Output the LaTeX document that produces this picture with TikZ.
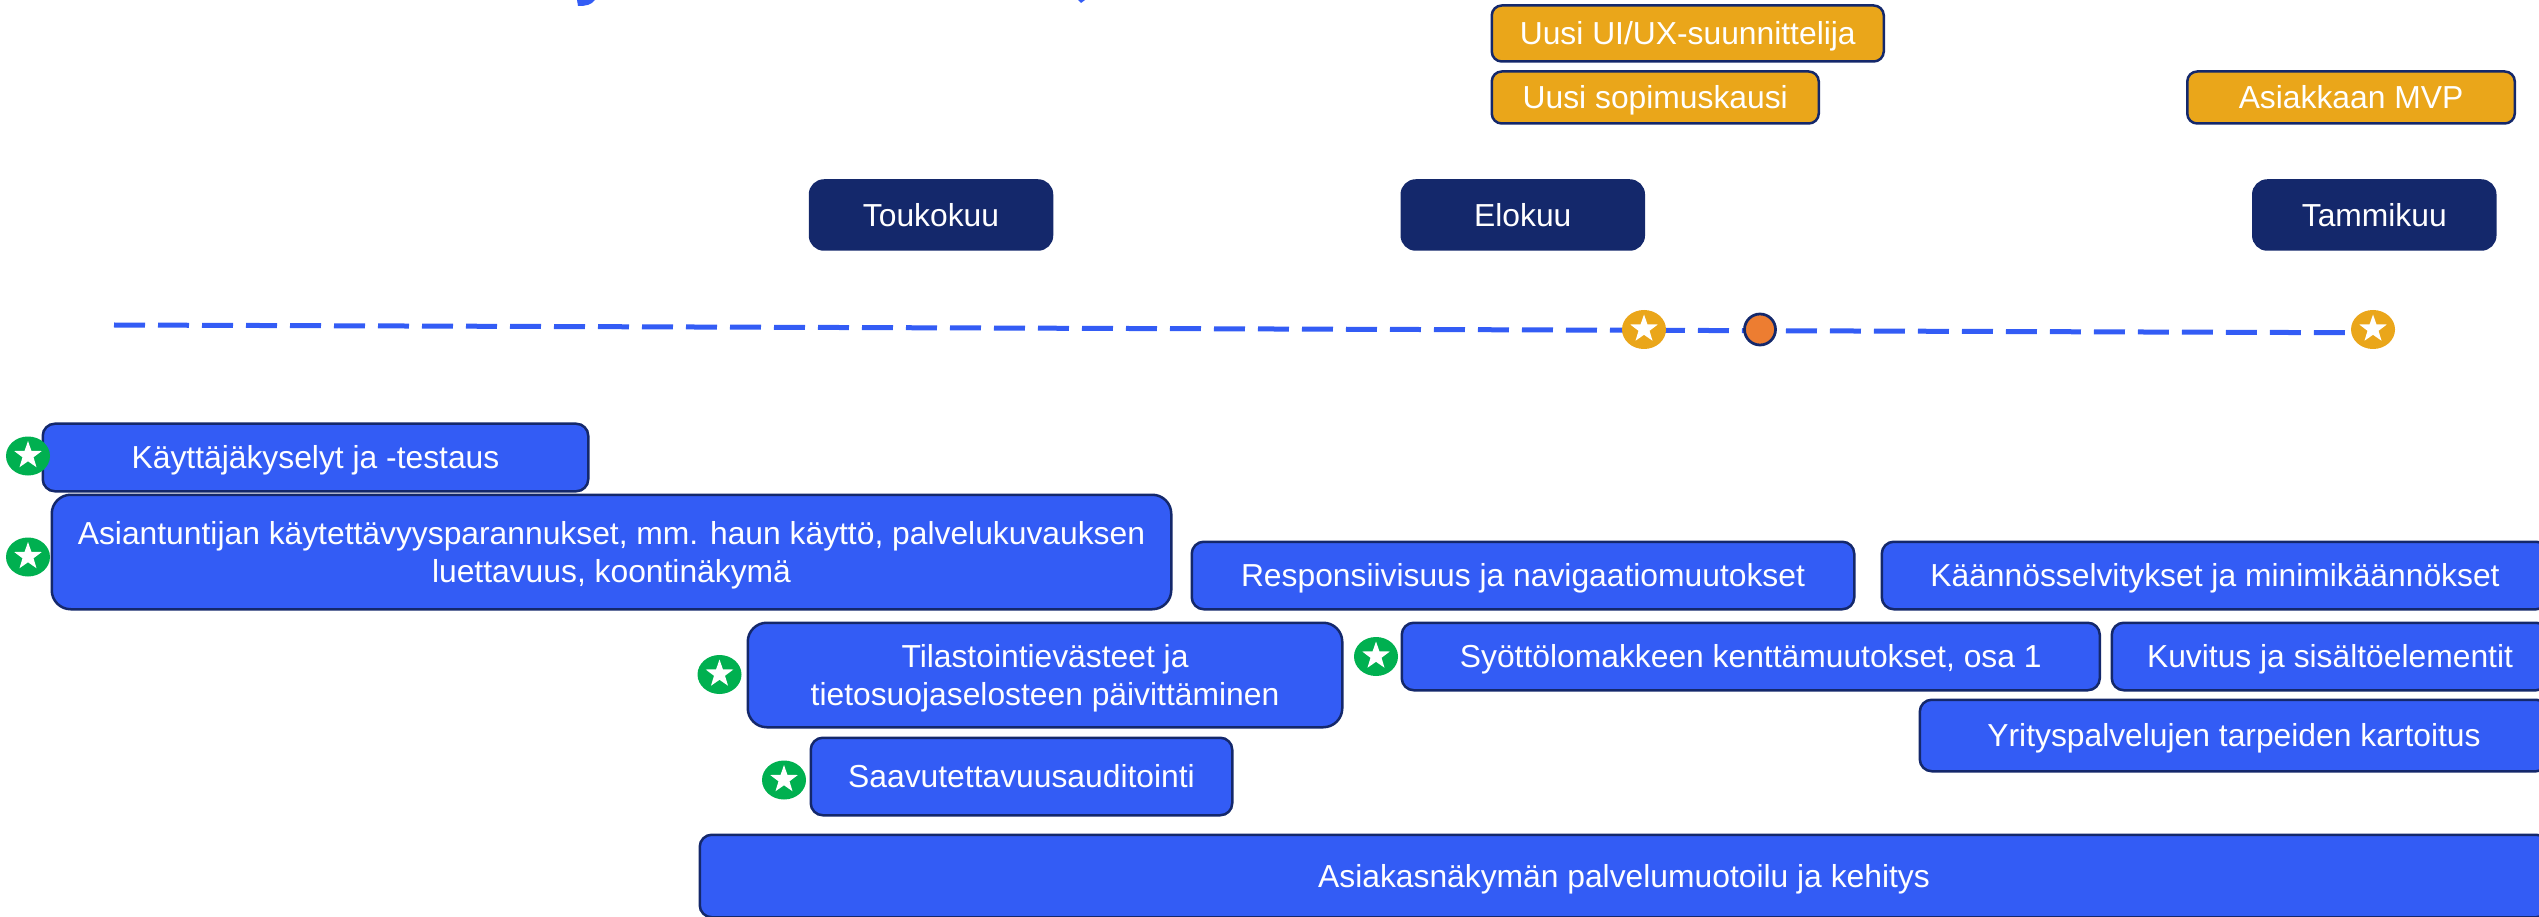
\documentclass[tikz,border=0pt]{standalone}
\usepackage{fontspec}
\setmainfont{Liberation Sans}
\usetikzlibrary{shapes.geometric}

\definecolor{taskblue}{HTML}{335CF5}
\definecolor{monthnavy}{HTML}{14286B}
\definecolor{goalgold}{HTML}{EAA61A}
\definecolor{badgegreen}{HTML}{00B050}
\definecolor{dotorange}{HTML}{ED7D31}

\tikzset{
	boxbase/.style={draw=monthnavy, line width=0.05cm, rectangle, text=white, align=center, inner sep=0pt,
		text height=13pt, text depth=-0.8pt, font=\fontsize{18.1}{22}\selectfont},
	monthbox/.style={boxbase, fill=monthnavy, rounded corners=0.28cm, minimum height=1.38cm, minimum width=4.84cm},
	goalbox/.style={boxbase, fill=goalgold, rounded corners=0.2cm},
	taskbox/.style={boxbase, fill=taskblue, rounded corners=0.24cm},
	bigtaskbox/.style={taskbox, rounded corners=0.38cm, text height=, text depth=-3.5pt},
	badge/.style={ellipse, inner sep=0pt, minimum width=0.88cm, minimum height=0.78cm},
	greenbadge/.style={badge, fill=badgegreen},
	goldbadge/.style={badge, fill=goalgold},
	whitestar/.style={star, star points=5, star point ratio=2.5, fill=white, inner sep=0pt, minimum size=0.58cm},
	timeline/.style={draw=taskblue, line width=0.1cm, dash pattern=on 0.62cm off 0.26cm}
}

\begin{document}
\begin{tikzpicture}
	\useasboundingbox (0, 0) rectangle (50.78, 18.32);
	\clip (0, 0) rectangle (50.78, 18.32);

	\fill[taskblue] (11.54, 18.32) -- (11.9, 18.32) .. controls (11.82, 18.22) and (11.72, 18.2) .. (11.56, 18.2) -- cycle;
	\fill[taskblue] (21.56, 18.32) -- (21.7, 18.32) -- (21.62, 18.26) -- cycle;

	\node[goalbox, minimum width=7.84cm, minimum height=1.12cm] (uiux) at (33.755, 17.65) {Uusi UI/UX-suunnittelija};
	\node[goalbox, minimum width=6.54cm, minimum height=1.04cm] (sopimus) at (33.105, 16.37) {Uusi sopimuskausi};
	\node[goalbox, minimum width=6.55cm, minimum height=1.04cm] (mvp) at (47.02, 16.37) {Asiakkaan MVP};

	\node[monthbox] (toukokuu) at (18.62, 14.02) {Toukokuu};
	\node[monthbox] (elokuu) at (30.455, 14.02) {Elokuu};
	\node[monthbox] (tammikuu) at (47.485, 14.02) {Tammikuu};

	\coordinate (linestart) at (2.28, 11.82);
	\coordinate (lineend) at (46.92, 11.666);
	\draw[timeline] (linestart) -- (lineend);

	\node[goldbadge] (goldone) at (32.88, 11.73) {};
	\node[whitestar] (goldonestar) at (32.88, 11.74) {};
	\node[circle, draw=monthnavy, line width=0.055cm, fill=dotorange, inner sep=0pt, minimum size=0.62cm] (dot) at (35.2, 11.73) {};
	\node[goldbadge] (goldtwo) at (47.46, 11.73) {};
	\node[whitestar] (goldtwostar) at (47.46, 11.74) {};

	\node[taskbox, minimum width=10.91cm, minimum height=1.35cm] (kysely) at (6.31, 9.17) {Käyttäjäkyselyt ja -testaus};
	\node[bigtaskbox, minimum width=22.39cm, minimum height=2.29cm] (asiantuntija) at (12.23, 7.28) {Asiantuntijan käytettävyysparannukset, mm. haun käyttö, palvelukuvauksen\\luettavuus, koontinäkymä};
	\node[bigtaskbox, minimum width=11.89cm, minimum height=2.09cm] (tilasto) at (20.9, 4.82) {Tilastointievästeet ja\\tietosuojaselosteen päivittäminen};
	\node[taskbox, minimum width=8.43cm, minimum height=1.55cm] (saavutus) at (20.43, 2.79) {Saavutettavuusauditointi};
	\node[taskbox, minimum width=36.97cm, minimum height=1.65cm] (palvelu) at (32.48, 0.8) {Asiakasnäkymän palvelumuotoilu ja kehitys};
	\node[taskbox, minimum width=13.25cm, minimum height=1.35cm] (responsiivi) at (30.46, 6.81) {Responsiivisuus ja navigaatiomuutokset};
	\node[taskbox, minimum width=13.33cm, minimum height=1.35cm] (kaannos) at (44.3, 6.81) {Käännösselvitykset ja minimikäännökset};
	\node[taskbox, minimum width=13.96cm, minimum height=1.35cm] (syotto) at (35.015, 5.19) {Syöttölomakkeen kenttämuutokset, osa 1};
	\node[taskbox, minimum width=8.73cm, minimum height=1.35cm] (kuvitus) at (46.6, 5.19) {Kuvitus ja sisältöelementit};
	\node[taskbox, minimum width=12.57cm, minimum height=1.43cm] (yritys) at (44.68, 3.61) {Yrityspalvelujen tarpeiden kartoitus};

	\node[greenbadge] (kyselybadge) at (0.56, 9.2) {};
	\node[whitestar] (kyselystar) at (0.56, 9.21) {};
	\node[greenbadge] (asiantuntijabadge) at (0.56, 7.18) {};
	\node[whitestar] (asiantuntijastar) at (0.56, 7.19) {};
	\node[greenbadge] (tilastobadge) at (14.39, 4.83) {};
	\node[whitestar] (tilastostar) at (14.39, 4.84) {};
	\node[greenbadge] (saavutusbadge) at (15.68, 2.72) {};
	\node[whitestar] (saavutusstar) at (15.68, 2.73) {};
	\node[greenbadge] (syottobadge) at (27.52, 5.19) {};
	\node[whitestar] (syottostar) at (27.52, 5.2) {};

\end{tikzpicture}
\end{document}
